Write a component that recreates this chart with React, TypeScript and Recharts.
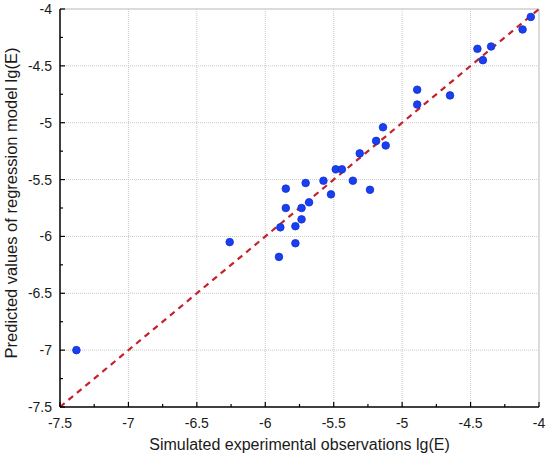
import React from 'react';
import {
  ScatterChart,
  Scatter,
  XAxis,
  YAxis,
  CartesianGrid,
  ReferenceLine,
} from 'recharts';

// simulated lg(E) vs regression-predicted lg(E)
const observed = [
  -7.38, -6.26, -5.9, -5.89, -5.85, -5.85, -5.78, -5.78, -5.735, -5.735,
  -5.705, -5.68, -5.575, -5.52, -5.485, -5.44, -5.36, -5.31, -5.235, -5.19,
  -5.14, -5.12, -4.89, -4.89, -4.65, -4.45, -4.41, -4.35, -4.12, -4.06,
];
const predicted = [
  -7.0, -6.05, -6.18, -5.92, -5.58, -5.75, -6.06, -5.91, -5.85, -5.75,
  -5.53, -5.7, -5.51, -5.63, -5.41, -5.41, -5.51, -5.27, -5.59, -5.16,
  -5.04, -5.2, -4.71, -4.84, -4.76, -4.35, -4.45, -4.33, -4.18, -4.07,
];

const axisTicks = [
  -7.5, -7.25, -7, -6.75, -6.5, -6.25, -6, -5.75, -5.5, -5.25, -5, -4.75,
  -4.5, -4.25, -4,
];
const gridValues = [-7, -6.5, -6, -5.5, -5, -4.5];
const diagonal = [-7.5, -4];

const points = observed.map((x, i) => ({ x, y: predicted[i] }));

const FONT = '"Liberation Sans", Arial, Helvetica, sans-serif';

const isMajor = (v: number) => Math.abs(v * 2 - Math.round(v * 2)) < 1e-6;

const XTick = (props: any) => {
  const { x, y, payload } = props;
  const v = payload.value;
  const major = isMajor(v);
  return (
    <g>
      <line x1={x} y1={y} x2={x} y2={y - (major ? 5 : 3)} stroke="#000" strokeWidth={1.2} />
      {major && (
        <text x={x} y={y + 21} textAnchor="middle" fontSize={14} fontFamily={FONT} fill="#1a1a1a">
          {String(v)}
        </text>
      )}
    </g>
  );
};

const YTick = (props: any) => {
  const { x, y, payload } = props;
  const v = payload.value;
  const major = isMajor(v);
  return (
    <g>
      <line x1={x} y1={y} x2={x + (major ? 5 : 3)} y2={y} stroke="#000" strokeWidth={1.2} />
      {major && (
        <text x={x - 8} y={y + 5} textAnchor="end" fontSize={14} fontFamily={FONT} fill="#1a1a1a">
          {String(v)}
        </text>
      )}
    </g>
  );
};

const Dot = (props: any) => {
  const { cx, cy } = props;
  return <circle cx={cx} cy={cy} r={3.8} fill="#1a3ff0" stroke="#0c2fd6" strokeWidth={0.8} />;
};

export default function App() {
  return (
    <div style={{ position: 'absolute', left: 0, top: 0, background: '#fff' }}>
      <ScatterChart width={550} height={458} margin={{ top: 9, right: 11, bottom: 0, left: 0 }}>
        <CartesianGrid
          stroke="#c9c9c9"
          strokeDasharray="1 1"
          verticalValues={gridValues}
          horizontalValues={gridValues}
        />
        <ReferenceLine x={-4} stroke="#cfcfcf" strokeWidth={1.5} />
        <ReferenceLine y={-4} stroke="#cfcfcf" strokeWidth={1.5} />
        <XAxis
          type="number"
          dataKey="x"
          domain={[-7.5, -4]}
          ticks={axisTicks}
          interval={0}
          height={51}
          tickSize={0}
          tickMargin={0}
          tickLine={false}
          tick={<XTick />}
          axisLine={{ stroke: '#000', strokeWidth: 1.5 }}
          allowDataOverflow
          label={{
            content: () => (
              <text x={299.5} y={450} textAnchor="middle" fontSize={16} fontFamily={FONT} fill="#1a1a1a">
                Simulated experimental observations lg(E)
              </text>
            ),
          }}
        />
        <YAxis
          type="number"
          dataKey="y"
          domain={[-7.5, -4]}
          ticks={axisTicks}
          interval={0}
          width={60}
          tickSize={0}
          tickMargin={0}
          tickLine={false}
          tick={<YTick />}
          axisLine={{ stroke: '#000', strokeWidth: 1.5 }}
          allowDataOverflow
          label={{
            content: () => (
              <text
                x={17}
                y={203}
                transform="rotate(-90, 17, 203)"
                textAnchor="middle"
                fontSize={16.5}
                fontFamily={FONT}
                fill="#1a1a1a"
              >
                Predicted values of regression model lg(E)
              </text>
            ),
          }}
        />
        <Scatter data={points} shape={<Dot />} isAnimationActive={false} />
        <ReferenceLine
          segment={[
            { x: diagonal[0], y: diagonal[0] },
            { x: diagonal[1], y: diagonal[1] },
          ]}
          stroke="#c8202a"
          strokeWidth={2.2}
          strokeDasharray="6 5"
        />
      </ScatterChart>
    </div>
  );
}
